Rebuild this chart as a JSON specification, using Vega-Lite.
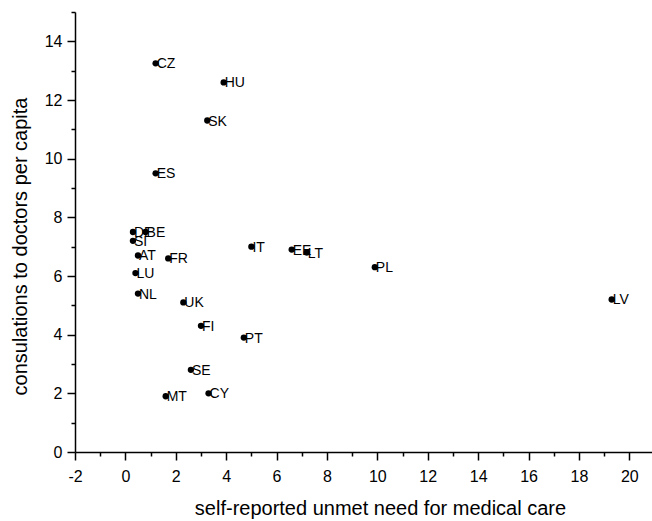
{
  "$schema": "https://vega.github.io/schema/vega-lite/v6.json",
  "autosize": "none",
  "width": 577,
  "height": 440,
  "padding": {"left": 75, "top": 12, "right": 0, "bottom": 69},
  "background": "white",
  "config": {
    "view": {"stroke": null},
    "font": "Liberation Sans",
    "axis": {
      "grid": false,
      "domainColor": "black",
      "domainWidth": 1.5,
      "tickColor": "black",
      "tickWidth": 1.5,
      "labelColor": "black",
      "titleColor": "black",
      "labelFont": "Liberation Sans",
      "titleFont": "Liberation Sans",
      "labelFontSize": 16,
      "titleFontSize": 20,
      "titleFontWeight": "normal"
    }
  },
  "data": {
    "values": [
      {"country": "CZ", "unmet": 1.2, "consult": 13.25},
      {"country": "HU", "unmet": 3.9, "consult": 12.6},
      {"country": "SK", "unmet": 3.25, "consult": 11.3},
      {"country": "ES", "unmet": 1.2, "consult": 9.5},
      {"country": "DE", "unmet": 0.3, "consult": 7.5},
      {"country": "BE", "unmet": 0.8, "consult": 7.5},
      {"country": "SI", "unmet": 0.3, "consult": 7.2},
      {"country": "AT", "unmet": 0.5, "consult": 6.7},
      {"country": "FR", "unmet": 1.7, "consult": 6.6},
      {"country": "LU", "unmet": 0.4, "consult": 6.1},
      {"country": "NL", "unmet": 0.5, "consult": 5.4},
      {"country": "UK", "unmet": 2.3, "consult": 5.1},
      {"country": "IT", "unmet": 5.0, "consult": 7.0},
      {"country": "EE", "unmet": 6.6, "consult": 6.9},
      {"country": "LT", "unmet": 7.2, "consult": 6.8},
      {"country": "PL", "unmet": 9.9, "consult": 6.3},
      {"country": "LV", "unmet": 19.3, "consult": 5.2},
      {"country": "FI", "unmet": 3.0, "consult": 4.3},
      {"country": "PT", "unmet": 4.7, "consult": 3.9},
      {"country": "SE", "unmet": 2.6, "consult": 2.8},
      {"country": "CY", "unmet": 3.3, "consult": 2.0},
      {"country": "MT", "unmet": 1.6, "consult": 1.9}
    ]
  },
  "encoding": {
    "x": {
      "field": "unmet",
      "type": "quantitative",
      "scale": {"domain": [-2, 20.9], "nice": false, "zero": false},
      "axis": {
        "title": "self-reported unmet need for medical care",
        "values": [-2, -1, 0, 1, 2, 3, 4, 5, 6, 7, 8, 9, 10, 11, 12, 13, 14, 15, 16, 17, 18, 19, 20],
        "labelExpr": "datum.value % 2 === 0 ? '' + datum.value : ''",
        "tickSize": {"condition": {"test": "datum.value % 2 === 0", "value": 8}, "value": 4},
        "labelPadding": 8,
        "titlePadding": 14,
        "titleX": 305,
        "labelFlush": false,
        "labelOverlap": false
      }
    },
    "y": {
      "field": "consult",
      "type": "quantitative",
      "scale": {"domain": [0, 15], "nice": false},
      "axis": {
        "title": "consulations to doctors per capita",
        "values": [0, 1, 2, 3, 4, 5, 6, 7, 8, 9, 10, 11, 12, 13, 14, 15],
        "labelExpr": "datum.value % 2 === 0 && datum.value < 15 ? datum.label : ''",
        "tickSize": {"condition": {"test": "datum.value % 2 === 0", "value": 8}, "value": 4},
        "labelPadding": 5,
        "titlePadding": 14,
        "titleY": 234,
        "labelFlush": false,
        "labelOverlap": false
      }
    }
  },
  "layer": [
    {"mark": {"type": "circle", "color": "black", "opacity": 1, "size": 40}},
    {
      "mark": {"type": "text", "align": "left", "baseline": "middle", "dx": 1, "dy": 1, "fontSize": 14, "font": "Liberation Sans", "color": "black"},
      "encoding": {"text": {"field": "country"}}
    }
  ]
}
